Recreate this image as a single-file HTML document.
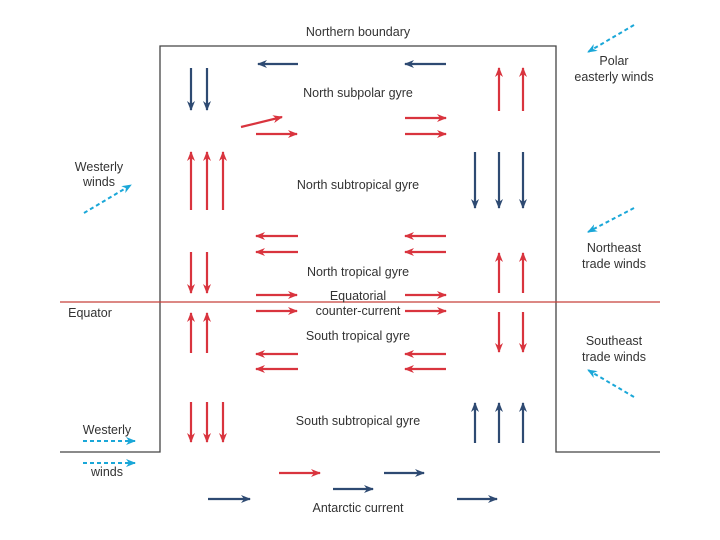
<!DOCTYPE html>
<html><head><meta charset="utf-8"><style>
html,body{margin:0;padding:0;background:#fff;}
svg{display:block;font-family:"Liberation Sans",sans-serif;}
text{font-size:12.5px;fill:#333;text-anchor:middle;}
</style></head><body>
<svg width="720" height="540" viewBox="0 0 720 540" xmlns="http://www.w3.org/2000/svg">
<defs>
<marker id="r" markerWidth="10" markerHeight="8" refX="9" refY="4" orient="auto" markerUnits="userSpaceOnUse"><path d="M0,0 L10,4 L0,8 L3,4z" fill="#d9343e"/></marker>
<marker id="b" markerWidth="10" markerHeight="8" refX="9" refY="4" orient="auto" markerUnits="userSpaceOnUse"><path d="M0,0 L10,4 L0,8 L3,4z" fill="#2e4a72"/></marker>
<marker id="c" markerWidth="10" markerHeight="8" refX="9" refY="4" orient="auto" markerUnits="userSpaceOnUse"><path d="M0,0 L10,4 L0,8 L3,4z" fill="#1aa7d8"/></marker>
</defs>
<g stroke="#444" stroke-width="1.3" fill="none">
<path d="M60,452 H160 V46 H556 V452 H660"/>
</g>
<line x1="60" y1="302" x2="660" y2="302" stroke="#c8413a" stroke-width="1.2"/>
<g stroke="#2e4a72" stroke-width="2.2" marker-end="url(#b)">
<line x1="298" y1="64" x2="258" y2="64"/><line x1="446" y1="64" x2="405" y2="64"/>
<line x1="191" y1="68" x2="191" y2="110"/><line x1="207" y1="68" x2="207" y2="110"/>
<line x1="475" y1="152" x2="475" y2="208"/><line x1="499" y1="152" x2="499" y2="208"/><line x1="523" y1="152" x2="523" y2="208"/>
<line x1="475" y1="443" x2="475" y2="403"/><line x1="499" y1="443" x2="499" y2="403"/><line x1="523" y1="443" x2="523" y2="403"/>
<line x1="384" y1="473" x2="424" y2="473"/><line x1="333" y1="489" x2="373" y2="489"/>
<line x1="208" y1="499" x2="250" y2="499"/><line x1="457" y1="499" x2="497" y2="499"/>
</g>
<g stroke="#d9343e" stroke-width="2.2" marker-end="url(#r)">
<line x1="499" y1="111" x2="499" y2="68"/><line x1="523" y1="111" x2="523" y2="68"/>
<line x1="241" y1="127" x2="282" y2="117"/><line x1="256" y1="134" x2="297" y2="134"/>
<line x1="405" y1="118" x2="446" y2="118"/><line x1="405" y1="134" x2="446" y2="134"/>
<line x1="191" y1="210" x2="191" y2="152"/><line x1="207" y1="210" x2="207" y2="152"/><line x1="223" y1="210" x2="223" y2="152"/>
<line x1="298" y1="236" x2="256" y2="236"/><line x1="298" y1="252" x2="256" y2="252"/>
<line x1="446" y1="236" x2="405" y2="236"/><line x1="446" y1="252" x2="405" y2="252"/>
<line x1="191" y1="252" x2="191" y2="293"/><line x1="207" y1="252" x2="207" y2="293"/>
<line x1="499" y1="293" x2="499" y2="253"/><line x1="523" y1="293" x2="523" y2="253"/>
<line x1="256" y1="295" x2="297" y2="295"/><line x1="256" y1="311" x2="297" y2="311"/>
<line x1="405" y1="295" x2="446" y2="295"/><line x1="405" y1="311" x2="446" y2="311"/>
<line x1="191" y1="353" x2="191" y2="313"/><line x1="207" y1="353" x2="207" y2="313"/>
<line x1="499" y1="312" x2="499" y2="352"/><line x1="523" y1="312" x2="523" y2="352"/>
<line x1="298" y1="354" x2="256" y2="354"/><line x1="298" y1="369" x2="256" y2="369"/>
<line x1="446" y1="354" x2="405" y2="354"/><line x1="446" y1="369" x2="405" y2="369"/>
<line x1="191" y1="402" x2="191" y2="442"/><line x1="207" y1="402" x2="207" y2="442"/><line x1="223" y1="402" x2="223" y2="442"/>
<line x1="279" y1="473" x2="320" y2="473"/>
</g>
<g stroke="#1aa7d8" stroke-width="2" stroke-dasharray="4,3" marker-end="url(#c)">
<line x1="83" y1="441" x2="135" y2="441"/><line x1="83" y1="463" x2="135" y2="463"/>
<line x1="84" y1="213" x2="131" y2="185"/>
<line x1="634" y1="25" x2="588" y2="52"/>
<line x1="634" y1="208" x2="588" y2="232"/>
<line x1="634" y1="397" x2="588" y2="370"/>
</g>
<text x="358" y="36">Northern boundary</text>
<text x="358" y="97">North subpolar gyre</text>
<text x="358" y="189">North subtropical gyre</text>
<text x="358" y="276">North tropical gyre</text>
<text x="358" y="300">Equatorial</text>
<text x="358" y="315">counter-current</text>
<text x="358" y="340">South tropical gyre</text>
<text x="358" y="425">South subtropical gyre</text>
<text x="358" y="512">Antarctic current</text>
<text x="90" y="317">Equator</text>
<text x="99" y="171">Westerly</text><text x="99" y="186">winds</text>
<text x="107" y="434">Westerly</text><text x="107" y="476">winds</text>
<text x="614" y="65">Polar</text><text x="614" y="81">easterly winds</text>
<text x="614" y="252">Northeast</text><text x="614" y="268">trade winds</text>
<text x="614" y="345">Southeast</text><text x="614" y="361">trade winds</text>
</svg>
</body></html>
